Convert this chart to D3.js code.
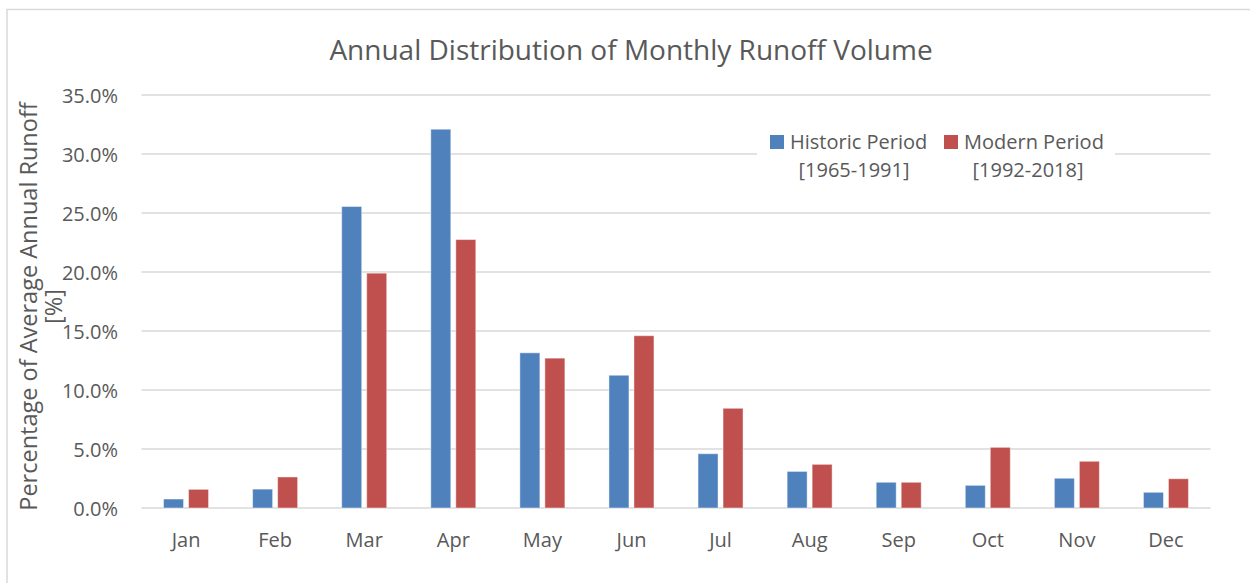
<!DOCTYPE html>
<html>
<head>
<meta charset="utf-8">
<script src="https://cdn.jsdelivr.net/npm/d3@7"></script>
<style>
  html, body { margin: 0; padding: 0; background: #fff; }
  svg { display: block; font-family: "Open Sans", sans-serif; }
</style>
</head>
<body>
<script>
const months = ['Jan', 'Feb', 'Mar', 'Apr', 'May', 'Jun', 'Jul', 'Aug', 'Sep', 'Oct', 'Nov', 'Dec'];
const historic = [0.0076, 0.0160, 0.2555, 0.3210, 0.1315, 0.1125, 0.0460, 0.0310, 0.0218, 0.0192, 0.0252, 0.0133];
const modern = [0.0158, 0.0263, 0.1990, 0.2275, 0.1270, 0.1460, 0.0845, 0.0370, 0.0218, 0.0514, 0.0396, 0.0248];
const seriesNames = ['historic', 'modern'];
const seriesLabels = [['Historic Period', '[1965-1991]'], ['Modern Period', '[1992-2018]']];
const yTicks = [0, 0.05, 0.10, 0.15, 0.20, 0.25, 0.30, 0.35];

const width = 1250, height = 583;
const plot = {left: 141.5, right: 1210.5, top: 95, bottom: 508};
const colors = {historic: '#4F81BD', modern: '#C0504D'};
const textColor = '#595959';
const gridColor = '#D9D9D9';

const rows = months.map((m, i) => ({month: m, historic: historic[i], modern: modern[i]}));

const $svg = d3.select('body').append('svg').attr('width', width).attr('height', height);

// chart frame
$svg.append('rect')
  .attr('x', 7).attr('y', 9.5)
  .attr('width', width + 20).attr('height', height + 20)
  .attr('fill', 'none')
  .attr('stroke', gridColor)
  .attr('stroke-width', 1.5);

const x0 = d3.scaleBand()
  .domain(months)
  .range([plot.left, plot.right]);

const groupHalf = 22.5;
const x1 = d3.scaleBand()
  .domain(seriesNames)
  .range([x0.bandwidth() / 2 - groupHalf, x0.bandwidth() / 2 + groupHalf])
  .paddingInner(0.2);

const y = d3.scaleLinear()
  .domain([0, 0.35])
  .range([plot.bottom, plot.top]);

// gridlines
$svg.append('g')
  .selectAll('line')
  .data(yTicks)
  .join('line')
  .attr('x1', plot.left)
  .attr('x2', plot.right)
  .attr('y1', d => y(d))
  .attr('y2', d => y(d))
  .attr('stroke', gridColor)
  .attr('stroke-width', 1.6);

// y axis labels
const yAxis = d3.axisLeft(y)
  .tickValues(yTicks)
  .tickFormat(d3.format('.1%'))
  .tickSize(0)
  .tickPadding(0);

const $yAxis = $svg.append('g')
  .attr('transform', `translate(118, 0)`)
  .call(yAxis);
$yAxis.select('.domain').remove();
$yAxis.selectAll('text')
  .attr('fill', textColor)
  .style('font-family', '"Open Sans", sans-serif')
  .style('font-size', '20px')
  .attr('dy', '0.35em');

// x axis labels
const xAxis = d3.axisBottom(x0).tickSize(0).tickPadding(0);
const $xAxis = $svg.append('g')
  .attr('transform', `translate(0, 547)`)
  .call(xAxis);
$xAxis.select('.domain').remove();
$xAxis.selectAll('text')
  .attr('fill', textColor)
  .attr('dy', 0)
  .style('font-family', '"Open Sans", sans-serif')
  .style('font-size', '20px');

// bars
const $groups = $svg.append('g')
  .selectAll('g')
  .data(rows)
  .join('g')
  .attr('transform', d => `translate(${x0(d.month)}, 0)`);

$groups.selectAll('rect')
  .data(d => seriesNames.map(k => ({key: k, value: d[k]})))
  .join('rect')
  .attr('x', d => x1(d.key))
  .attr('width', x1.bandwidth())
  .attr('y', d => y(d.value))
  .attr('height', d => y(0) - y(d.value))
  .attr('fill', d => colors[d.key])
  .attr('stroke', 'rgba(255,255,255,0.45)')
  .attr('stroke-width', 1);

// title
$svg.append('text')
  .attr('x', 631)
  .attr('y', 60)
  .attr('text-anchor', 'middle')
  .attr('fill', textColor)
  .style('font-size', '28px')
  .text('Annual Distribution of Monthly Runoff Volume');

// y axis title
const $yTitle = $svg.append('text')
  .attr('transform', `translate(0, ${(plot.top + plot.bottom) / 2 + 5}) rotate(-90)`)
  .attr('text-anchor', 'middle')
  .attr('fill', textColor)
  .style('font-size', '23.5px');
$yTitle.append('tspan').attr('x', 0).attr('y', 37).text('Percentage of Average Annual Runoff');
$yTitle.append('tspan').attr('x', 0).attr('y', 62).text('[%]');

// legend
const $legend = $svg.append('g');
$legend.append('rect')
  .attr('x', 757).attr('y', 126)
  .attr('width', 358).attr('height', 60)
  .attr('fill', '#fff');

const legendItems = [
  {key: 'historic', sx: 770, tx: 790, cx: 854},
  {key: 'modern', sx: 944, tx: 964, cx: 1028}
];

legendItems.forEach((item, i) => {
  $legend.append('rect')
    .attr('x', item.sx).attr('y', 135)
    .attr('width', 14).attr('height', 14)
    .attr('fill', colors[item.key]);
  $legend.append('text')
    .attr('x', item.tx).attr('y', 149)
    .attr('fill', textColor)
    .style('font-size', '20px')
    .text(seriesLabels[i][0]);
  $legend.append('text')
    .attr('x', item.cx).attr('y', 177)
    .attr('text-anchor', 'middle')
    .attr('fill', textColor)
    .style('font-size', '20px')
    .text(seriesLabels[i][1]);
});
</script>
</body>
</html>
